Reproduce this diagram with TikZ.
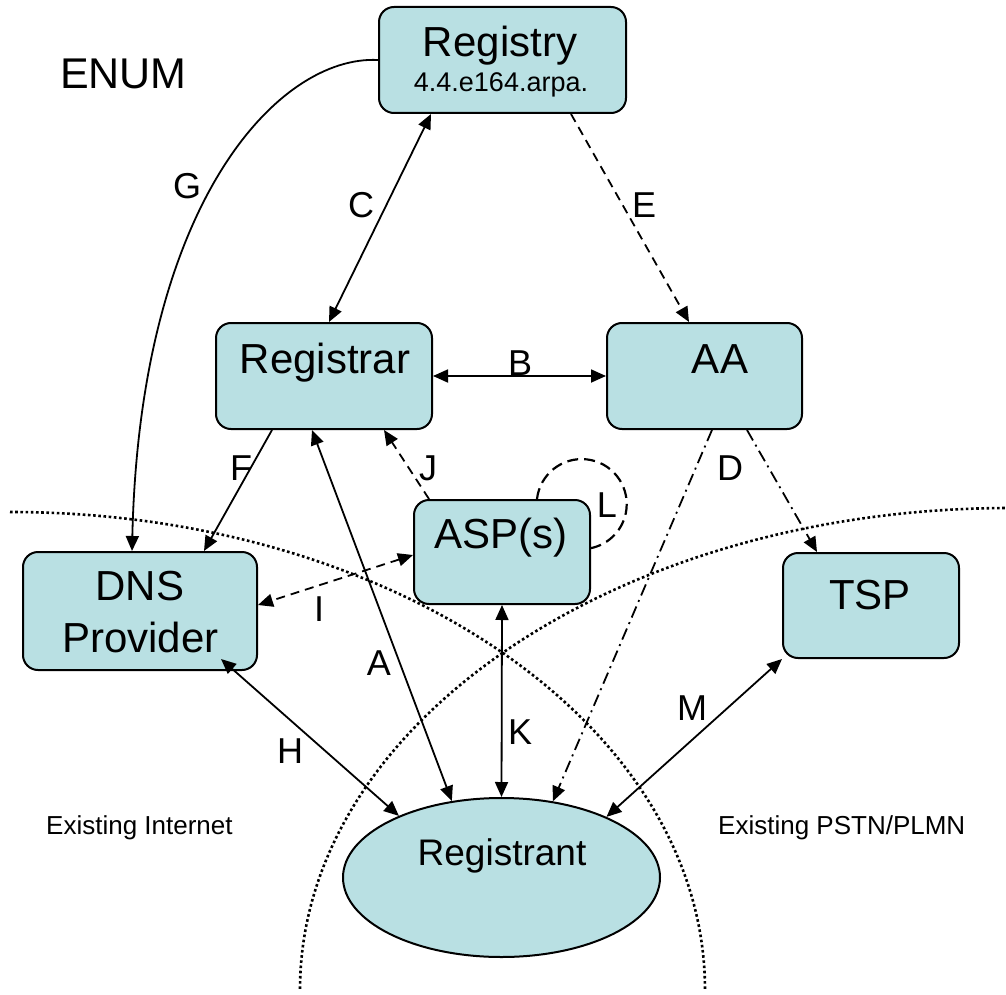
\documentclass[tikz,border=0pt]{standalone}
\usepackage{fontspec}
\setmainfont{Liberation Sans}
\usetikzlibrary{arrows.meta,shapes.geometric}
\definecolor{boxfill}{RGB}{185,224,227}
\begin{document}
\begin{tikzpicture}[x=1pt,y=-1pt,
  >={Triangle[length=15pt,width=13pt]},
  box/.style={draw,line width=2pt,fill=boxfill,rounded corners=15pt,inner sep=0pt},
  oval/.style={draw,line width=2pt,fill=boxfill,ellipse,inner sep=0pt},
  big/.style={font=\fontsize{42}{48}\selectfont,inner sep=0pt,anchor=base},
  tag/.style={font=\fontsize{36}{42}\selectfont,inner sep=0pt,anchor=base},
  note/.style={font=\fontsize{26}{30}\selectfont,inner sep=0pt,anchor=base west},
  conn/.style={line width=1.8pt},
  dashline/.style={conn,dash pattern=on 9pt off 6pt},
  dashdotline/.style={conn,dash pattern=on 12pt off 5pt on 2pt off 5pt},
  loopline/.style={line width=2.2pt,dash pattern=on 11pt off 6pt},
  boundary/.style={line width=2.6pt,dash pattern=on 2.6pt off 2.6pt}]

\useasboundingbox (0,0) rectangle (1006,995);
\clip (0,0) rectangle (1006,995);

% network boundaries
\draw[boundary] (10,512) arc[start angle=90,end angle=0,x radius=695pt,y radius=478pt];
\draw[boundary] (1010,508) arc[start angle=90,end angle=180,x radius=710pt,y radius=482pt];

% entities
\node[box,minimum width=247pt,minimum height=106pt] (registry) at (502.5,60) {};
\node[box,minimum width=216pt,minimum height=106pt] (registrar) at (324,376) {};
\node[box,minimum width=195pt,minimum height=106pt] (aa) at (704.5,376) {};
\node[box,minimum width=176pt,minimum height=104pt] (asp) at (502,552) {};
\node[box,minimum width=234pt,minimum height=118pt] (dns) at (140,611) {};
\node[box,minimum width=176pt,minimum height=105pt] (tsp) at (871,605.5) {};
\node[oval,minimum width=317pt,minimum height=159pt] (registrant) at (501.5,877.5) {};

% entity texts
\node[big] (t-registry) at (500,57) {Registry};
\node[big,font=\fontsize{27}{32}\selectfont] (t-arpa) at (501,92) {4.4.e164.arpa.};
\node[big] (t-registrar) at (325,373) {Registrar};
\node[big] (t-aa) at (720,373) {AA};
\node[big] (t-asp) at (501,548) {ASP(s)};
\node[big] (t-dns) at (140,600) {DNS};
\node[big] (t-provider) at (140.5,652) {Provider};
\node[big] (t-tsp) at (870,609) {TSP};
\node[big,font=\fontsize{37}{44}\selectfont] (t-registrant) at (502,865) {Registrant};
\node[big,anchor=base west,font=\fontsize{43}{50}\selectfont] (enum) at (60,89) {ENUM};
\node[note] (internet) at (46,834) {Existing Internet};
\node[note] (pstn) at (718,834) {Existing PSTN/PLMN};

% interfaces
\draw[conn,<->] ([xshift=53pt]registry.south west) -- ([xshift=114pt]registrar.north west);
\draw[dashline,->] ([xshift=193pt]registry.south west) -- ([xshift=83pt]aa.north west);
\draw[conn,<->] (registrar.east) -- (aa.west);
\draw[conn,->] ([xshift=57pt]registrar.south west) -- ([xshift=182pt]dns.north west);
\draw[conn,<->] ([xshift=97pt]registrar.south west) -- (registrant.123);
\draw[dashline,->] ([xshift=16pt]asp.north west) -- ([xshift=169pt]registrar.south west);
\draw[dashline,<->] ([yshift=-3pt]asp.west) -- ([yshift=6pt]dns.east);
\draw[conn,<->] (asp.south) -- (registrant.north);
\draw[dashdotline,->] ([xshift=106pt]aa.south west) -- (registrant.56.4);
\draw[dashdotline,->] ([xshift=141pt]aa.south west) -- ([xshift=35pt]tsp.north west);
\draw[conn,<->] ([xshift=199pt,yshift=12pt]dns.south west) -- (registrant.149.6);
\draw[conn,<->] (tsp.south west) -- (registrant.30.4);
\draw[conn,->] (registry.west) .. controls (280,55) and (140,200) .. ([xshift=110pt]dns.north west);
\draw[loopline] ([xshift=124pt]asp.north west) arc[start angle=173.5,end angle=-80,radius=45pt];

% interface letters
\node[tag] (lA) at (379,675) {A};
\node[tag] (lB) at (520,375) {B};
\node[tag] (lC) at (361,218) {C};
\node[tag] (lD) at (730,480) {D};
\node[tag] (lE) at (644,217) {E};
\node[tag] (lF) at (241,480) {F};
\node[tag] (lG) at (187,199) {G};
\node[tag] (lH) at (290,763) {H};
\node[tag] (lI) at (319,621) {I};
\node[tag] (lJ) at (428,480) {J};
\node[tag] (lK) at (520,744) {K};
\node[tag] (lL) at (607,517) {L};
\node[tag] (lM) at (692,720) {M};
\end{tikzpicture}
\end{document}
